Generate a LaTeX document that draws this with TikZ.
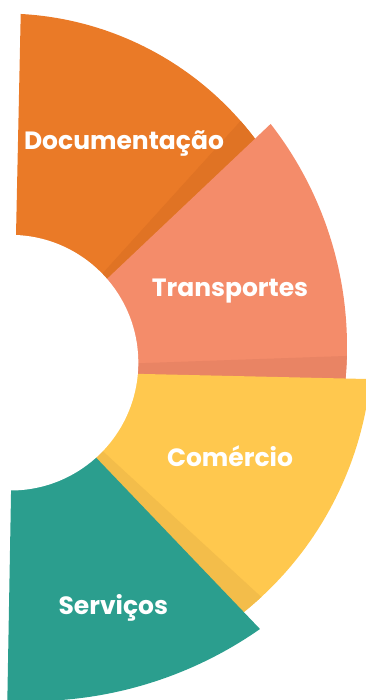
\documentclass[tikz,border=0pt]{standalone}
\usepackage{fontspec}
\setmainfont{Poppins}
\usetikzlibrary{calc}
\definecolor{docc}{HTML}{EA7A27}
\definecolor{docs}{HTML}{E07324}
\definecolor{trac}{HTML}{F48C6A}
\definecolor{tras}{HTML}{E98464}
\definecolor{comc}{HTML}{FFC84E}
\definecolor{coms}{HTML}{F3BD4A}
\definecolor{serc}{HTML}{2B9E8E}
\begin{document}
\begin{tikzpicture}[x=1pt,y=1pt,
  lbl/.style={text=white, font=\bfseries\fontsize{25}{30}\selectfont, inner sep=0pt, anchor=base}]
\useasboundingbox (0,0) rectangle (366,700);
\coordinate (CD) at (3.7,371.7);
\coordinate (CT) at (-15,353.7);
\coordinate (CC) at (27.7,356.2);
\coordinate (CS) at (31,398);
\coordinate (CH) at (10.5,337.3);
% Documentacao
\fill[docc] (13.3,338) -- ($(CD)+(86.9:314.8)$) arc[start angle=86.9, end angle=34, radius=314.8] -- cycle;
\begin{scope}
  \clip (13.3,338) -- ($(CD)+(86.9:314.8)$) arc[start angle=86.9, end angle=34, radius=314.8] -- cycle;
  \fill[docs] (41.3,359) -- (277.2,619.4) -- (400,500) -- cycle;
\end{scope}
% Transportes
\fill[trac] (5.5,325) -- ($(CT)+(37.9:362)$) arc[start angle=37.9, end angle=-6.1, radius=362] -- cycle;
\begin{scope}
  \clip (5.5,325) -- ($(CT)+(37.9:362)$) arc[start angle=37.9, end angle=-6.1, radius=362] -- cycle;
  \fill[tras] (0,331.9) -- (400,345.9) -- (400,300) -- (0,300) -- cycle;
\end{scope}
% Comercio
\fill[comc] (10,329) -- ($(CC)+(-5.88:344.5)$) arc[start angle=-5.88, end angle=-53.3, radius=344.5] -- cycle;
\begin{scope}
  \clip (10,329) -- ($(CC)+(-5.88:344.5)$) arc[start angle=-5.88, end angle=-53.3, radius=344.5] -- cycle;
  \fill[coms] (-5.6,348.6) -- (320,49) -- (100,-20) -- cycle;
\end{scope}
% Servicos
\fill[serc] (13.2,329) -- ($(CS)+(-55:399.2)$) arc[start angle=-55, end angle=-93.4, radius=399.2] -- cycle;
% hole
\fill[white] (CH) circle[radius=127.8];
% labels
\node[lbl] (t1) at (124,550) {Documentação};
\node[lbl] (t2) at (230,403.3) {Transportes};
\node[lbl] (t3) at (230,233.3) {Comércio};
\node[lbl] (t4) at (113.3,85) {Serviços};
\end{tikzpicture}
\end{document}
